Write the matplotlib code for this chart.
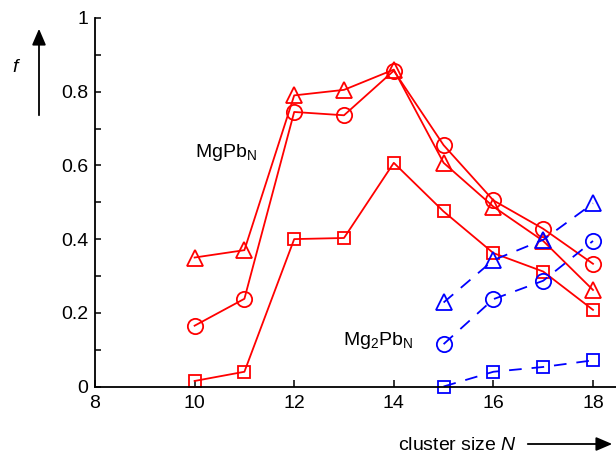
import matplotlib
matplotlib.use("Agg")
import matplotlib.pyplot as plt
from matplotlib.patches import FancyArrowPatch

plt.rcParams['font.family'] = ['Liberation Sans', 'DejaVu Sans']
plt.rcParams['mathtext.fontset'] = 'custom'
plt.rcParams['mathtext.rm'] = 'Liberation Sans'
plt.rcParams['mathtext.it'] = 'Liberation Sans:italic'

# Data
n_mg1 = [10, 11, 12, 13, 14, 15, 16, 17, 18]
mg1_triangle = [0.35, 0.37, 0.79, 0.805, 0.86, 0.607, 0.488, 0.395, 0.262]
mg1_circle = [0.165, 0.238, 0.745, 0.736, 0.857, 0.655, 0.505, 0.428, 0.333]
mg1_square = [0.015, 0.04, 0.40, 0.403, 0.607, 0.475, 0.362, 0.312, 0.208]

n_mg2 = [15, 16, 17, 18]
mg2_triangle = [0.228, 0.343, 0.398, 0.497]
mg2_circle = [0.115, 0.237, 0.287, 0.395]
mg2_square = [0.0, 0.04, 0.053, 0.071]

xticks = [8, 10, 12, 14, 16, 18]
yticks = [0, 0.2, 0.4, 0.6, 0.8, 1]
ytick_labels = ['0', '0.2', '0.4', '0.6', '0.8', '1']

W, H = 616, 457
fig = plt.figure(figsize=(W / 100, H / 100), dpi=100)
ax = fig.add_axes([95 / W, 1 - 386.5 / H, 1 - 95 / W, (386.5 - 18) / H])

red = '#ff0000'
blue = '#0000ff'
lw = 1.3
mew = 1.3

ax.plot(n_mg1, mg1_triangle, color=red, lw=lw, marker='^', ms=11.5, mfc='none', mew=mew, clip_on=False)
ax.plot(n_mg1, mg1_circle, color=red, lw=lw, marker='o', ms=11, mfc='none', mew=mew, clip_on=False)
ax.plot(n_mg1, mg1_square, color=red, lw=lw, marker='s', ms=8.2, mfc='none', mew=mew, clip_on=False)

dash = (7, 5.5)
ax.plot(n_mg2, mg2_triangle, color=blue, lw=lw, ls=(0, dash), marker='^', ms=11.5, mfc='none', mew=mew, clip_on=False)
ax.plot(n_mg2, mg2_circle, color=blue, lw=lw, ls=(0, dash), marker='o', ms=11, mfc='none', mew=mew, clip_on=False)
ax.plot(n_mg2, mg2_square, color=blue, lw=lw, ls=(0, dash), marker='s', ms=8.2, mfc='none', mew=mew, clip_on=False)

ax.set_xlim(8, 8 + (W - 95) / 49.8)
ax.set_ylim(0, 1)
ax.set_xticks(xticks)
ax.set_yticks(yticks)
ax.set_yticklabels(ytick_labels)
ax.set_yticks([0.1, 0.3, 0.5, 0.7, 0.9], minor=True)
ax.tick_params(axis='both', which='both', direction='in', labelsize=14, width=1.1)
ax.tick_params(axis='y', which='major', length=4, pad=5)
ax.tick_params(axis='y', which='minor', length=4)
ax.tick_params(axis='x', which='major', length=5, pad=6)
for s in ['top', 'right']:
    ax.spines[s].set_visible(False)
for s in ['left', 'bottom']:
    ax.spines[s].set_linewidth(1.3)

ax.text(10.0, 0.635, r'MgPb$_{\mathrm{N}}$', fontsize=14, ha='left', va='center')
ax.text(12.98, 0.126, r'Mg$_{\mathrm{2}}$Pb$_{\mathrm{N}}$', fontsize=14, ha='left', va='center')

# y label with arrow
fig.text(15 / W, 1 - 67 / H, 'f', fontsize=14, style='italic', ha='center', va='center')
fig.add_artist(FancyArrowPatch((39 / W, 1 - 118 / H), (39 / W, 1 - 26 / H),
                               transform=fig.transFigure, arrowstyle='-|>,head_length=0.7,head_width=0.3',
                               mutation_scale=14, color='black', lw=1.3))

# x label with arrow
fig.text(517 / W, 1 - 446 / H, 'cluster size $\\it{N}$', fontsize=14, ha='right', va='center')
fig.add_artist(FancyArrowPatch((525 / W, 1 - 444 / H), (615 / W, 1 - 444 / H),
                               transform=fig.transFigure, arrowstyle='-|>,head_length=0.7,head_width=0.3',
                               mutation_scale=14, color='black', lw=1.3))

fig.savefig('out.png', dpi=100)
